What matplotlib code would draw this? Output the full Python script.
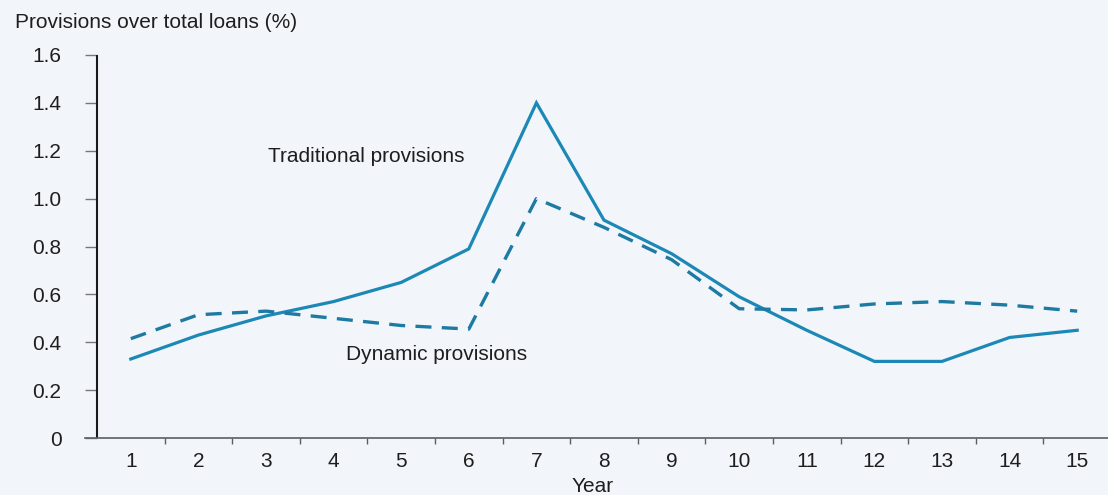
import matplotlib
matplotlib.use("Agg")
from matplotlib import pyplot as plt

# data
years = [1, 2, 3, 4, 5, 6, 7, 8, 9, 10, 11, 12, 13, 14, 15]
traditional = [0.33, 0.43, 0.51, 0.57, 0.65, 0.79, 1.40, 0.91, 0.77, 0.59, 0.45, 0.32, 0.32, 0.42, 0.45]
dynamic = [0.415, 0.515, 0.53, 0.50, 0.47, 0.455, 1.00, 0.88, 0.745, 0.54, 0.535, 0.56, 0.57, 0.555, 0.53]
yticks = [0, 0.2, 0.4, 0.6, 0.8, 1.0, 1.2, 1.4, 1.6]
ytick_labels = ["0", "0.2", "0.4", "0.6", "0.8", "1.0", "1.2", "1.4", "1.6"]

plt.rcParams['font.family'] = ['Liberation Sans', 'DejaVu Sans']
bg = '#f2f6fa'
line_col = '#1c88b6'
txt_col = '#1e1e1e'
fs = 15

fig = plt.figure(figsize=(11.08, 4.95), dpi=100, facecolor=bg)
ax = fig.add_axes([85 / 1108, 57 / 495, 1023 / 1108, 383 / 495])
ax.set_facecolor(bg)

ax.plot(years, traditional, color=line_col, lw=2.3, solid_joinstyle='miter')
ax.plot(years, dynamic, color='#1c7aa3', lw=2.4, dashes=(4.8, 3.1))

ax.set_xlim(0.5 - 12 / 67.6, 0.5 + 1011 / 67.6)
ax.set_ylim(0, 1.6)

for s in ['top', 'right', 'left']:
    ax.spines[s].set_visible(False)
ax.spines['bottom'].set_color('#5a5f66')
ax.spines['bottom'].set_linewidth(1.2)
ax.axvline(0.5, 0, 1, color='#1a1a1a', lw=1.5)

ax.set_yticks(yticks)
ax.set_yticklabels(ytick_labels)
ax.tick_params(axis='y', direction='in', length=8.6, width=1.0, color='#777777',
               pad=17, labelsize=fs, labelcolor=txt_col)

ax.set_xticks(years)
ax.set_xticklabels([str(y) for y in years])
ax.set_xticks([y + 0.5 for y in years[:-1]], minor=True)
ax.tick_params(axis='x', which='major', length=0, pad=10, labelsize=fs, labelcolor=txt_col)
ax.tick_params(axis='x', which='minor', direction='out', length=4.5, width=1.0, color='#5a5f66')

ax.text(3.03, 1.174, 'Traditional provisions', fontsize=fs, color=txt_col, va='center', ha='left')
ax.text(4.18, 0.347, 'Dynamic provisions', fontsize=fs, color=txt_col, va='center', ha='left')

fig.text(15 / 1108, 1 - 22 / 495, 'Provisions over total loans (%)', fontsize=fs,
         color=txt_col, va='center', ha='left')
fig.text(593 / 1108, 1 - 486 / 495, 'Year', fontsize=fs, color=txt_col, va='center', ha='center')

fig.savefig('out.png', dpi=100, facecolor=bg)
